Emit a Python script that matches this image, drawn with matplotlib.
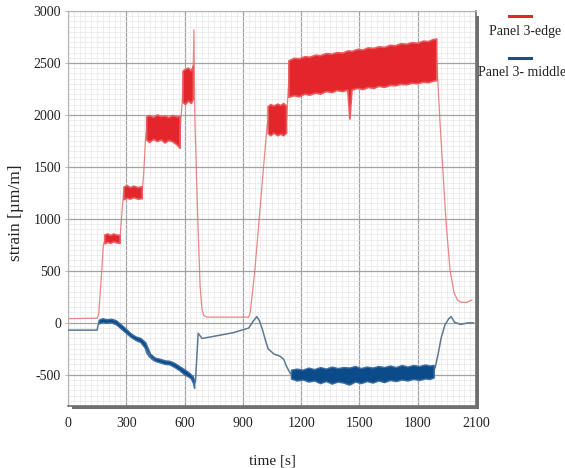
import numpy as np
import matplotlib
matplotlib.use("Agg")
import matplotlib.pyplot as plt
from matplotlib.patches import Rectangle
from matplotlib.lines import Line2D
from matplotlib.ticker import MultipleLocator

plt.rcParams['font.family'] = ['Liberation Serif', 'DejaVu Serif']
plt.rcParams['axes.unicode_minus'] = False

nan = np.nan

# ---- Panel 3-edge (red): centre line ----
edge_t = [0, 150, 158, 170, 182, 190, 268, 275, 285, 290, 382, 390, 400, 405, 577, 585,
          592, 643, 648, 653, 668, 680, 690, 700, 715, 930, 938, 962, 998, 1024, 1030, 1125,
          1132, 1137, 1898, 1914, 1945, 1966, 1987, 2005, 2020, 2050, 2079]
edge_v = [40, 45, 80, 400, 750, 800, 810, 1000, 1230, 1250, 1250, 1450, 1800, 1870, 1870, 2050,
          2270, 2290, 2820, 1950, 1000, 350, 120, 70, 55, 55, 100, 510, 1310, 1885, 1950, 1950,
          2200, 2340, 2530, 1950, 990, 510, 290, 220, 200, 195, 220]

# ---- Panel 3-edge: noisy envelope, core (lower / upper) ----
edge_band_t = [190, 205, 220, 235, 250, 268, nan,
               288, 305, 320, 340, 360, 382, nan,
               405, 420, 440, 460, 480, 500, 520, 540, 560, 577, nan,
               592, 605, 620, 635, 645, nan,
               1030, 1045, 1060, 1080, 1095, 1110, 1125, nan,
               1137, 1165, 1190, 1220, 1245, 1275, 1300, 1330, 1360, 1385, 1415, 1440, 1451,
               1462, 1490, 1520, 1545, 1575, 1600, 1630, 1660, 1685, 1715, 1745, 1770, 1800,
               1830, 1855, 1880, 1898]
edge_band_lo = [760, 775, 765, 780, 770, 765, nan,
                1185, 1200, 1190, 1205, 1190, 1195, nan,
                1760, 1735, 1765, 1745, 1760, 1730, 1755, 1740, 1715, 1680, nan,
                2120, 2100, 2135, 2110, 2150, nan,
                1820, 1800, 1825, 1800, 1815, 1800, 1825, nan,
                2170, 2185, 2175, 2200, 2190, 2210, 2200, 2225, 2215, 2235, 2225, 2240, 1960,
                2240, 2255, 2245, 2265, 2255, 2275, 2265, 2285, 2280, 2295, 2290, 2305, 2300,
                2315, 2310, 2325, 2330]
edge_band_hi = [845, 855, 840, 855, 845, 840, nan,
                1305, 1320, 1300, 1315, 1300, 1310, nan,
                1980, 1995, 1975, 2000, 1985, 1990, 1975, 1995, 1980, 1985, nan,
                2420, 2440, 2450, 2425, 2470, nan,
                2080, 2100, 2085, 2105, 2090, 2110, 2085, nan,
                2520, 2545, 2540, 2560, 2555, 2575, 2570, 2590, 2585, 2600, 2595, 2615, 2615,
                2610, 2630, 2625, 2645, 2640, 2655, 2650, 2670, 2665, 2685, 2680, 2695, 2690,
                2710, 2705, 2725, 2730]

# ---- Panel 3-middle (blue): centre line ----
mid_t = [0, 150, 155, 160, 180, 210, 240, 260, 280, 300, 320, 340, 360, 380, 395, 405, 420,
         440, 470, 500, 530, 555, 575, 600, 620, 640, 650, 656, 664, 670, 690, 750, 850, 930,
         955, 972, 985, 1000, 1015, 1030, 1060, 1090, 1110, 1125, 1145, 1160, 1880, 1890,
         1905, 1920, 1940, 1960, 1972, 1990, 2020, 2060, 2085]
mid_v = [-70, -70, -20, 10, 20, 15, 10, -10, -40, -80, -120, -140, -160, -180, -220, -290, -330,
         -360, -380, -390, -400, -420, -450, -480, -500, -540, -590, -560, -300, -100, -150,
         -130, -95, -50, 20, 60, 20, -60, -160, -250, -300, -320, -350, -420, -490, -500,
         -460, -430, -300, -150, -20, 40, 60, 5, -15, 0, 0]

# ---- Panel 3-middle: noisy envelope, core ----
mid_band_t = [160, 180, 200, 225, 250, 275, 300, 325, 350, 375, 400, 425, 450, 475, 500, 525,
              550, 575, 600, 620, 635, 645, 652, nan,
              1150, 1180, 1210, 1240, 1270, 1300, 1330, 1360, 1390, 1420, 1450, 1480, 1510,
              1540, 1570, 1600, 1630, 1660, 1690, 1720, 1750, 1780, 1810, 1840, 1865, 1885]
mid_band_lo = [-10, 0, -5, 0, -20, -60, -100, -140, -170, -190, -250, -330, -370, -385, -400,
               -405, -430, -460, -500, -520, -540, -580, -630, nan,
               -540, -560, -550, -570, -560, -585, -565, -590, -570, -580, -600, -570, -585,
               -565, -580, -560, -575, -555, -565, -550, -560, -545, -555, -540, -545, -530]
mid_band_hi = [25, 40, 30, 35, 20, -20, -60, -105, -135, -150, -190, -300, -340, -350, -365,
               -370, -390, -420, -450, -475, -500, -520, -560, nan,
               -455, -445, -455, -435, -450, -430, -445, -425, -440, -430, -435, -420, -440,
               -425, -435, -420, -430, -415, -430, -410, -425, -410, -420, -405, -415, -410]

x_ticks = [0, 300, 600, 900, 1200, 1500, 1800, 2100]
y_ticks = [-500, 0, 500, 1000, 1500, 2000, 2500, 3000]
legend_labels = ["Panel 3-edge", "Panel 3- middle"]

W, H = 565, 468
fig = plt.figure(figsize=(W / 100, H / 100), dpi=100)

def fx(px):
    return px / W

def fy(py):
    return 1 - py / H

ax_l, ax_r, ax_t, ax_b = 68, 476, 11, 406
ax = fig.add_axes([fx(ax_l), fy(ax_b), fx(ax_r - ax_l), (ax_b - ax_t) / H])
ax.set_zorder(2)
ax.set_facecolor('white')

# drop shadow behind the plot box
shadow = Rectangle((fx(72), fy(409)), fx(479 - 72), (409 - 16) / H,
                   transform=fig.transFigure, facecolor='#6f6f6f', edgecolor='none', zorder=0)
fig.add_artist(shadow)

ax.set_xlim(0, 2100)
ax.set_ylim(-800, 3000)
ax.set_xticks(x_ticks)
ax.set_yticks(y_ticks)
ax.xaxis.set_minor_locator(MultipleLocator(30))
ax.yaxis.set_minor_locator(MultipleLocator(50))
ax.grid(which='major', color='#a3a3a3', linewidth=0.9, zorder=0)
ax.grid(which='minor', color='#e8e8e8', linewidth=0.5, zorder=0)
ax.set_axisbelow(True)

ax.tick_params(axis='x', which='both', length=0, pad=8, labelsize=10, colors='#222222')
ax.tick_params(axis='y', which='major', length=2, width=0.6, color='#aaaaaa', pad=3,
               labelsize=10, labelcolor='#222222')
ax.tick_params(axis='y', which='minor', length=0)

for s in ['left', 'top']:
    ax.spines[s].set_color('#b5b5b5')
    ax.spines[s].set_linewidth(0.8)
for s in ['right', 'bottom']:
    ax.spines[s].set_color('#6f6f6f')
    ax.spines[s].set_linewidth(1.2)

red_band = '#e2262b'
red_line = '#e36a6a'
blue_band = '#0c4b8a'
blue_line = '#5d7891'

# red series
ax.fill_between(edge_band_t, edge_band_lo, edge_band_hi, color=red_band, linewidth=1.2,
                edgecolor='#eb5a5c', zorder=3)
ax.plot(edge_t, edge_v, color=red_line, linewidth=0.9, alpha=0.8, zorder=2.5)

# blue series
ax.fill_between(mid_band_t, mid_band_lo, mid_band_hi, color=blue_band, linewidth=1.0,
                edgecolor='#3f6fa0', zorder=3)
ax.plot(mid_t, mid_v, color=blue_line, linewidth=1.1, zorder=2.6)

ax.set_xlabel('time [s]', fontsize=11, color='#222222')
ax.xaxis.set_label_coords(0.5, -0.122)
ax.set_ylabel('strain [µm/m]', fontsize=12.5, color='#222222')
ax.yaxis.set_label_coords(-0.108, 0.49)

# legend (stacked: line sample above label)
fig.add_artist(Line2D([fx(509), fx(531)], [fy(16), fy(16)], color='#e2262b', linewidth=2.2,
                      transform=fig.transFigure))
fig.text(fx(525), fy(31), legend_labels[0], ha='center', va='center', fontsize=10,
         color='#222222')
fig.add_artist(Line2D([fx(509), fx(531)], [fy(58), fy(58)], color='#1b4f84', linewidth=2.2,
                      transform=fig.transFigure))
fig.text(fx(522), fy(72), legend_labels[1], ha='center', va='center', fontsize=10,
         color='#222222')

fig.savefig('out.png', dpi=100, facecolor='white')
